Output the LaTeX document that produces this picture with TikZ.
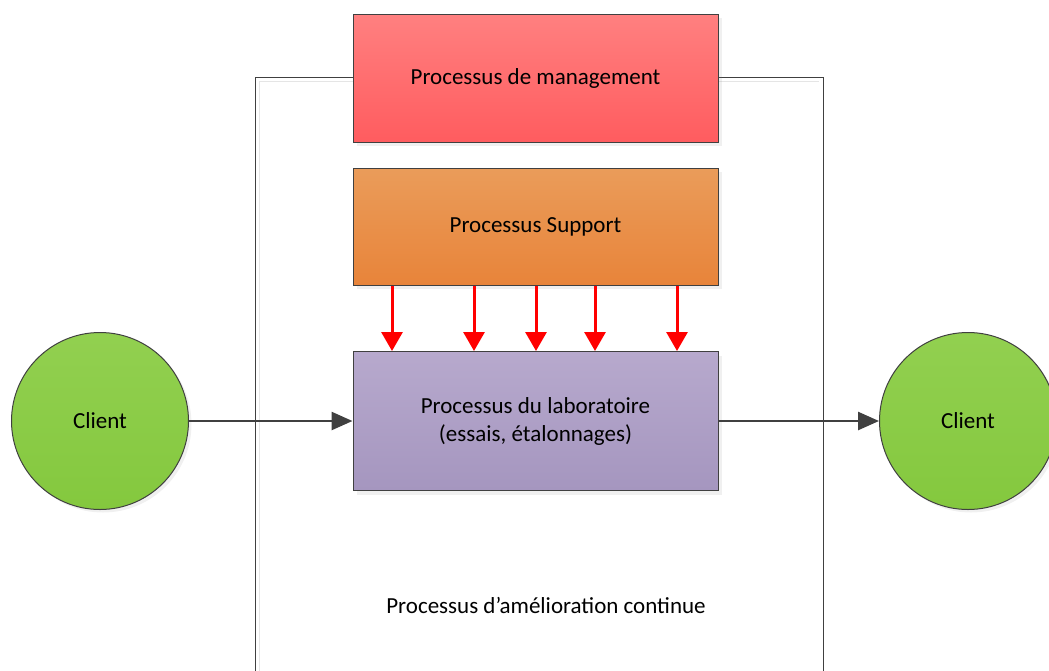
\documentclass[tikz,border=0pt]{standalone}
\usepackage{fontspec}
\setmainfont{Carlito}
\usepackage{tikz}
\usetikzlibrary{arrows.meta,shadows}
\definecolor{mgmttop}{HTML}{FF8080}
\definecolor{mgmtbot}{HTML}{FF5C5F}
\definecolor{suptop}{HTML}{EA9C5A}
\definecolor{supbot}{HTML}{E8843A}
\definecolor{labtop}{HTML}{B7A9CD}
\definecolor{labbot}{HTML}{A596BF}
\definecolor{clienttop}{HTML}{92D050}
\definecolor{clientbot}{HTML}{84C83E}
\definecolor{edgegray}{HTML}{404040}
\tikzset{
    every node/.style={font=\fontsize{23}{28}\selectfont, align=center}
}
\tikzset{
    procbox/.style={rectangle, draw=edgegray, line width=1pt,
    	minimum width=365pt,
    	drop shadow={shadow xshift=4pt, shadow yshift=-4pt, opacity=.12}},
    client/.style={circle, draw=edgegray, line width=1pt, minimum size=177pt,
    	top color=clienttop, bottom color=clientbot,
    	drop shadow={shadow xshift=3pt, shadow yshift=-3pt, opacity=.12}},
    flowarrow/.style={draw=edgegray, line width=2.6pt,
    	arrows={-Triangle[length=21pt,width=18pt]}},
    feedarrow/.style={draw=red, line width=3pt,
    	arrows={-Triangle[length=19pt,width=21pt]}}
}

\begin{document}
\begin{tikzpicture}[x=1pt, y=-1pt]
	\useasboundingbox (0,0) rectangle (1049,670);
	% cadre de l'amelioration continue
	\draw[edgegray, line width=1pt] (255,672) -- (255,77) -- (823,77) -- (823,672);
	\draw[black!10, line width=1pt] (259,672) -- (259,81) -- (819,81);
	\node (amel) at (546,605) {Processus d’amélioration continue};
	\node [procbox, minimum height=128pt, top color=mgmttop,
		bottom color=mgmtbot] (mgmt) at (535.5,78) {Processus de management};
	\node [procbox, minimum height=117pt, top color=suptop,
		bottom color=supbot] (support) at (535.5,226.5) {Processus Support};
	\node [procbox, minimum height=139pt, top color=labtop,
		bottom color=labbot] (labo) at (535.5,421)
		{Processus du laboratoire\\(essais, étalonnages)};
	\node [client] (clientL) at (100,421) {Client};
	\node [client] (clientR) at (968,421) {Client};
	\draw[flowarrow] (clientL) -- (labo);
	\draw[flowarrow] (labo) -- (clientR);
	\foreach \x [count=\i] in {392,474,536,595,677} {
		\coordinate (f\i) at (\x,0);
		\draw[feedarrow] (support.south -| f\i) -- (labo.north -| f\i);
	}
\end{tikzpicture}
\end{document}
